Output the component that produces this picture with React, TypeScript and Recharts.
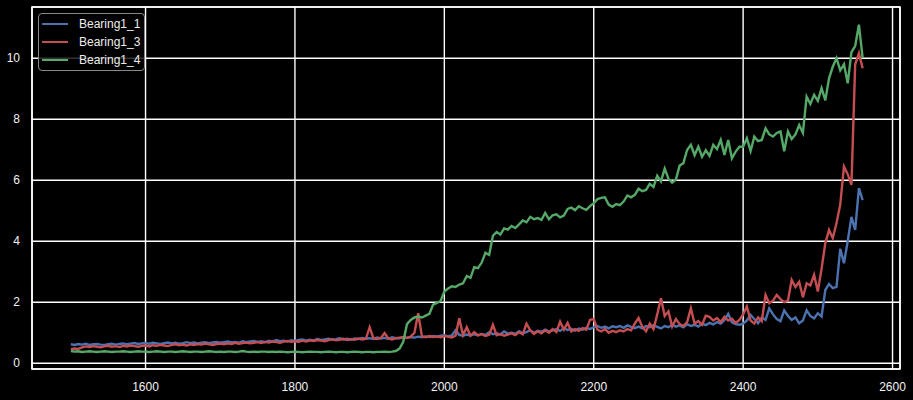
import React from 'react';
import { LineChart, Line, XAxis, YAxis, CartesianGrid, ReferenceArea } from 'recharts';

// sample positions: 1500, 1505, ... 2560
const X_START = 1500;
const X_STEP = 5;

const X_TICKS = [1600, 1800, 2000, 2200, 2400, 2600];
const Y_TICKS = [0, 2, 4, 6, 8, 10];

const SERIES = [
  { key: 'b1', name: 'Bearing1_1', color: '#4C72B0' },
  { key: 'b3', name: 'Bearing1_3', color: '#C44E52' },
  { key: 'b4', name: 'Bearing1_4', color: '#55A868' },
];

const bearing1_1 = [
  // 1500-1595
  0.62, 0.60, 0.63, 0.61, 0.64, 0.60, 0.62, 0.63, 0.61, 0.60, 0.62, 0.64, 0.61, 0.63, 0.65, 0.62, 0.64, 0.66, 0.63, 0.65,
  // 1600-1695
  0.66, 0.64, 0.67, 0.65, 0.63, 0.66, 0.68, 0.65, 0.67, 0.64, 0.66, 0.69, 0.66, 0.68, 0.65, 0.67, 0.69, 0.66, 0.68, 0.70,
  // 1700-1795
  0.67, 0.69, 0.71, 0.68, 0.70, 0.67, 0.72, 0.69, 0.71, 0.73, 0.70, 0.72, 0.69, 0.74, 0.71, 0.76, 0.72, 0.74, 0.71, 0.75,
  // 1800-1895
  0.73, 0.76, 0.78, 0.74, 0.77, 0.75, 0.79, 0.76, 0.78, 0.80, 0.77, 0.79, 0.82, 0.78, 0.80, 0.77, 0.81, 0.79, 0.83, 0.80,
  // 1900-1935
  0.82, 0.79, 0.84, 0.81, 0.83, 0.80, 0.85, 0.82,
  // 1940-2195
  0.82, 0.85, 0.83, 0.86, 0.84, 0.87, 0.85, 0.88, 0.86, 0.89,
  0.87, 0.90, 0.92, 0.88, 0.91, 1.08, 0.93, 0.90, 0.94, 0.91,
  0.95, 0.92, 0.96, 0.93, 1.02, 0.95, 0.98, 0.94, 1.04, 0.97,
  1.00, 0.96, 1.05, 0.98, 1.02, 1.08, 1.00, 1.06, 1.03, 1.10,
  1.04, 1.08, 1.12, 1.06, 1.15, 1.09, 1.13, 1.07, 1.14, 1.10,
  1.16, 1.12,
  // 2200-2395
  1.18, 1.22, 1.16, 1.20, 1.14, 1.21, 1.18, 1.22, 1.16, 1.24,
  1.19, 1.15, 1.20, 1.14, 1.22, 1.18, 1.25, 1.19, 1.14, 1.22,
  1.18, 1.26, 1.20, 1.24, 1.18, 1.28, 1.22, 1.26, 1.20, 1.30,
  1.25, 1.32, 1.27, 1.35, 1.30, 1.42, 1.62, 1.34, 1.28, 1.26,
  // 2400-2560
  1.30, 1.40, 1.58, 1.45, 1.31, 1.50, 1.42, 1.80, 1.60, 1.45,
  1.38, 1.73, 1.55, 1.42, 1.50, 1.31, 1.40, 1.73, 1.55, 1.47,
  1.64, 1.53, 2.40, 2.60, 2.46, 2.50, 3.75, 3.28, 4.00, 4.80,
  4.37, 5.74, 5.35,
];

const bearing1_3 = [
  0.46, 0.48, 0.47, 0.52, 0.55, 0.53, 0.56, 0.54, 0.52, 0.55, 0.57, 0.54, 0.56, 0.53, 0.57, 0.55, 0.58, 0.56, 0.54, 0.57,
  0.58, 0.55, 0.59, 0.57, 0.60, 0.58, 0.56, 0.60, 0.62, 0.59, 0.61, 0.58, 0.62, 0.60, 0.63, 0.61, 0.64, 0.62, 0.60, 0.63,
  0.64, 0.62, 0.65, 0.63, 0.67, 0.64, 0.66, 0.68, 0.65, 0.67, 0.69, 0.66, 0.70, 0.68, 0.71, 0.69, 0.67, 0.71, 0.73, 0.70,
  0.72, 0.70, 0.74, 0.71, 0.75, 0.73, 0.76, 0.74, 0.72, 0.76, 0.78, 0.75, 0.77, 0.80, 0.76, 0.79, 0.77, 0.81, 0.78, 0.80,
  1.18, 0.82, 0.79, 0.83, 0.99, 0.81, 0.78, 0.82,
  0.84, 0.86, 0.83, 0.87, 1.00, 1.64, 0.88, 0.85, 0.89, 0.86,
  0.88, 0.85, 0.89, 0.87, 0.84, 0.90, 1.47, 0.92, 1.18, 0.90,
  1.02, 0.91, 0.95, 0.89, 0.93, 1.26, 0.92, 0.96, 0.90, 0.94,
  0.98, 0.92, 1.02, 0.95, 1.30, 1.08, 0.96, 1.05, 0.98, 1.08,
  1.00, 1.12, 1.02, 1.36, 1.10, 1.32, 1.04, 1.12, 1.06, 1.15,
  1.10, 1.42,
  1.45, 1.10, 1.04, 1.12, 1.00, 1.06, 1.02, 1.08, 1.04, 1.12,
  1.08, 1.30, 1.48, 1.20, 1.05, 1.30, 1.12, 1.60, 2.13, 1.55,
  1.70, 1.20, 1.45, 1.28, 1.22, 1.35, 1.80, 1.30, 1.38, 1.26,
  1.56, 1.52, 1.40, 1.48, 1.35, 1.52, 1.40, 1.46, 1.32, 1.42,
  1.60, 1.86, 1.40, 1.30, 1.50, 1.38, 2.24, 1.97, 2.05, 2.24,
  2.10, 2.00, 2.05, 2.73, 2.50, 2.67, 2.16, 2.62, 2.55, 2.90,
  2.35, 3.10, 3.93, 4.37, 4.10, 4.60, 5.20, 6.45, 6.20, 5.85,
  9.80, 10.16, 9.67,
];

const bearing1_4 = [
  0.40, 0.38, 0.39, 0.37, 0.38, 0.39, 0.38, 0.37, 0.38, 0.39, 0.38, 0.37, 0.38, 0.38, 0.39, 0.38, 0.37, 0.38, 0.39, 0.38,
  0.38, 0.37, 0.38, 0.39, 0.38, 0.37, 0.38, 0.38, 0.37, 0.38, 0.39, 0.38, 0.37, 0.38, 0.38, 0.37, 0.38, 0.39, 0.38, 0.37,
  0.38, 0.37, 0.38, 0.38, 0.37, 0.38, 0.40, 0.38, 0.37, 0.38, 0.37, 0.38, 0.38, 0.37, 0.38, 0.37, 0.38, 0.37, 0.36, 0.37,
  0.38, 0.37, 0.36, 0.37, 0.38, 0.37, 0.37, 0.36, 0.37, 0.38, 0.37, 0.36, 0.37, 0.37, 0.36, 0.37, 0.38, 0.37, 0.36, 0.37,
  0.37, 0.36, 0.37, 0.37, 0.38, 0.37, 0.38, 0.40,
  0.48, 0.70, 1.28, 1.42, 1.50, 1.53, 1.50, 1.56, 1.62, 1.92,
  1.98, 2.04, 2.35, 2.45, 2.52, 2.50, 2.58, 2.62, 2.86, 2.80,
  3.15, 3.12, 3.30, 3.62, 3.55, 4.18, 4.30, 4.22, 4.42, 4.38,
  4.50, 4.43, 4.55, 4.68, 4.62, 4.80, 4.72, 4.76, 4.70, 4.93,
  4.72, 4.85, 4.88, 4.78, 4.84, 5.06, 5.10, 5.02, 5.15, 5.08,
  5.03, 5.15,
  5.25, 5.38, 5.42, 5.44, 5.20, 5.13, 5.22, 5.18, 5.30, 5.50,
  5.44, 5.52, 5.72, 5.64, 5.68, 5.88, 5.78, 6.15, 5.96, 6.38,
  6.05, 5.92, 6.02, 6.48, 6.56, 6.99, 7.16, 6.82, 7.10, 6.77,
  6.98, 6.80, 7.16, 7.02, 7.32, 6.83, 7.32, 6.72, 6.94, 7.10,
  7.10, 7.38, 6.96, 7.43, 7.28, 7.32, 7.70, 7.50, 7.43, 7.55,
  7.60, 6.95, 7.60, 7.35, 7.50, 7.81, 7.55, 8.74, 8.50, 8.80,
  8.60, 9.02, 8.62, 9.34, 9.72, 10.00, 9.60, 9.80, 9.18, 10.20,
  10.40, 11.10, 10.00,
];

const data = bearing1_1.map((v, i) => ({
  x: X_START + i * X_STEP,
  b1: v,
  b3: bearing1_3[i],
  b4: bearing1_4[i],
}));

const X_DOMAIN = [1448, 2610];
const Y_DOMAIN = [-0.19, 11.68];

const font = '"Liberation Sans", Arial, sans-serif';

const LegendBox = () => (
  <div
    style={{
      position: 'absolute',
      left: 38,
      top: 13,
      width: 107,
      height: 58,
      border: '1px solid #888',
      borderRadius: 4,
      background: 'rgba(0,0,0,0.8)',
      boxSizing: 'border-box',
      paddingTop: 1,
    }}
  >
    {SERIES.map(s => (
      <div key={s.key} style={{ display: 'flex', alignItems: 'center', height: 18 }}>
        <span style={{ display: 'inline-block', width: 26, height: 2, background: s.color, marginLeft: 3 }} />
        <span style={{ marginLeft: 11, color: '#eee', fontSize: 12, fontFamily: font }}>{s.name}</span>
      </div>
    ))}
  </div>
);

export default function App() {
  return (
    <div style={{ width: 913, height: 400, background: '#000', position: 'absolute', left: 0, top: 0 }}>
      <style>{'body{margin:0;background:#000;}'}</style>
      <LineChart width={913} height={400} data={data} margin={{ top: 7, right: 13, left: 0, bottom: 0 }}>
        <CartesianGrid stroke="#fff" strokeWidth={1.4} />
        <XAxis
          dataKey="x"
          type="number"
          domain={X_DOMAIN}
          ticks={X_TICKS}
          allowDataOverflow
          height={31}
          axisLine={false}
          tickLine={false}
          tickSize={0}
          tickMargin={13}
          tick={{ fill: '#f2f2f2', fontSize: 12, fontFamily: font }}
        />
        <YAxis
          type="number"
          domain={Y_DOMAIN}
          ticks={Y_TICKS}
          allowDataOverflow
          width={32}
          axisLine={false}
          tickLine={false}
          tickSize={0}
          tickMargin={12}
          tick={{ fill: '#f2f2f2', fontSize: 12, fontFamily: font }}
        />
        <ReferenceArea
          x1={X_DOMAIN[0]}
          x2={X_DOMAIN[1]}
          y1={Y_DOMAIN[0]}
          y2={Y_DOMAIN[1]}
          fill="none"
          stroke="#fff"
          strokeWidth={1.6}
          ifOverflow="visible"
        />
        {SERIES.map(s => (
          <Line
            key={s.key}
            dataKey={s.key}
            name={s.name}
            stroke={s.color}
            strokeWidth={2.4}
            dot={false}
            type="linear"
            isAnimationActive={false}
          />
        ))}
      </LineChart>
      <LegendBox />
    </div>
  );
}
